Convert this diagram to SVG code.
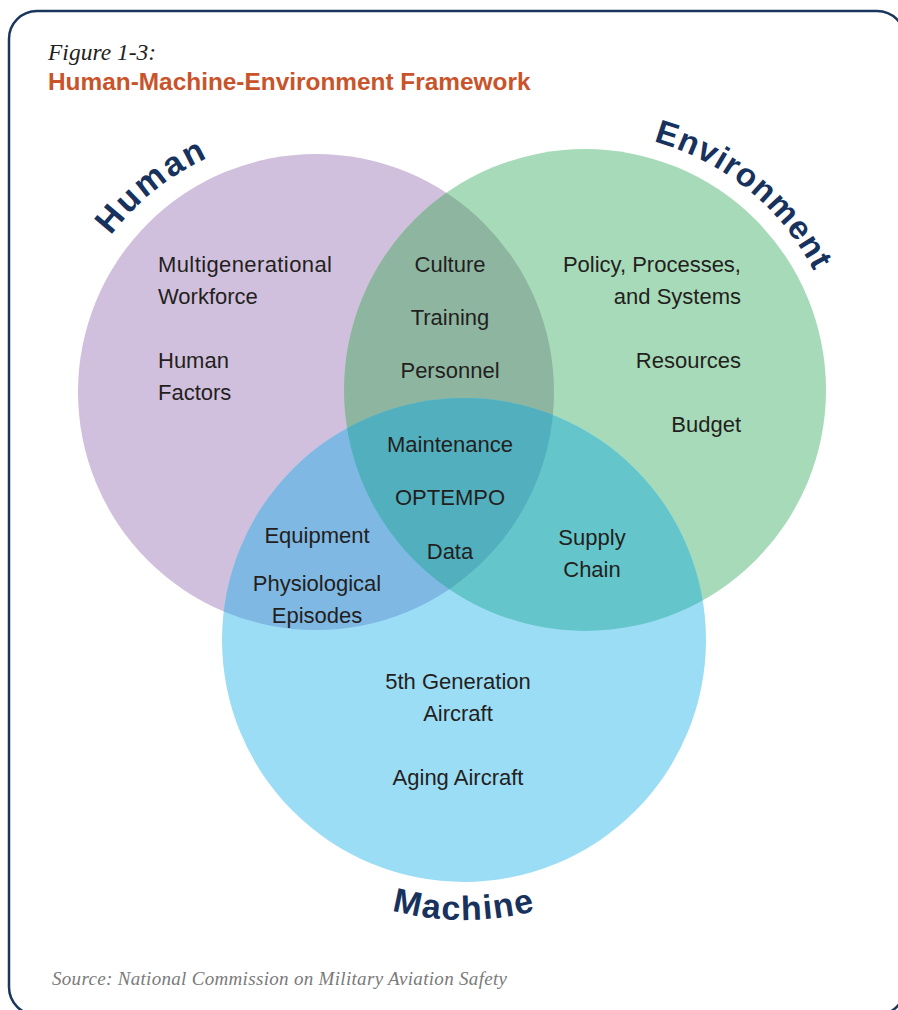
<svg xmlns="http://www.w3.org/2000/svg" xmlns:xlink="http://www.w3.org/1999/xlink" width="898" height="1010" viewBox="0 0 898 1010">
<style>
.lbl{font-family:"Liberation Sans","Arial",sans-serif;font-size:22px;fill:#231F20}
.mid{text-anchor:middle}
.end{text-anchor:end}
.big{font-family:"Liberation Sans","Arial",sans-serif;font-weight:bold;fill:#17325C}
</style>
<defs>
<clipPath id="cP"><circle cx="316" cy="392" r="238"/></clipPath>
<clipPath id="cG"><circle cx="585" cy="390" r="241"/></clipPath>
<clipPath id="cPG" clip-path="url(#cP)"><circle cx="585" cy="390" r="241"/></clipPath>
<path id="arcH" d="M 58 392 A 258 258 0 0 1 574 392"/>
<path id="arcE" d="M 327 390 A 258 258 0 0 1 843 390"/>
<path id="arcM" d="M 184 640 A 280 280 0 0 0 744 640"/>
</defs>
<rect x="0" y="0" width="898" height="1010" fill="#FFFFFF"/>
<rect x="9" y="11" width="896" height="1004" rx="28" ry="28" fill="none" stroke="#1B365D" stroke-width="2.5"/>
<text x="48" y="60" font-family="Liberation Serif, Times New Roman, serif" font-style="italic" font-size="23.5" fill="#231F20">Figure 1-3:</text>
<text x="48" y="90" font-family="Liberation Sans, Arial, sans-serif" font-weight="bold" font-size="24.4" fill="#C9532A">Human-Machine-Environment Framework</text>
<g id="human">
<circle cx="316" cy="392" r="238" fill="#D1C0DD"/>
</g>
<g id="environment">
<circle cx="585" cy="390" r="241" fill="#A7DAB8"/>
</g>
<g id="machine">
<circle cx="464" cy="640" r="242" fill="#9CDDF6"/>
</g>
<g id="overlaps">
<circle cx="585" cy="390" r="241" fill="#8EB5A0" clip-path="url(#cP)"/>
<circle cx="464" cy="640" r="242" fill="#7EB8E3" clip-path="url(#cP)"/>
<circle cx="464" cy="640" r="242" fill="#64C6CB" clip-path="url(#cG)"/>
<circle cx="464" cy="640" r="242" fill="#52AFBE" clip-path="url(#cPG)"/>
</g>
<g id="connectors"></g>
<g id="titles">
<text class="big" font-size="34" letter-spacing="2.5"><textPath xlink:href="#arcH" href="#arcH" startOffset="28.6%" text-anchor="middle">Human</textPath></text>
<text class="big" font-size="33" letter-spacing="1"><textPath xlink:href="#arcE" href="#arcE" startOffset="71.7%" text-anchor="middle">Environment</textPath></text>
<text class="big" font-size="34" letter-spacing="1.5"><textPath xlink:href="#arcM" href="#arcM" startOffset="50%" text-anchor="middle">Machine</textPath></text>
</g>
<g id="labels-human">
<text class="lbl" x="158" y="272" letter-spacing="0.4">Multigenerational</text>
<text class="lbl" x="158" y="304">Workforce</text>
<text class="lbl" x="158" y="368">Human</text>
<text class="lbl" x="158" y="400">Factors</text>
</g>
<g id="labels-he">
<text class="lbl mid" x="450" y="272">Culture</text>
<text class="lbl mid" x="450" y="325">Training</text>
<text class="lbl mid" x="450" y="378">Personnel</text>
</g>
<g id="labels-env">
<text class="lbl end" x="741" y="272">Policy, Processes,</text>
<text class="lbl end" x="741" y="304">and Systems</text>
<text class="lbl end" x="741" y="368">Resources</text>
<text class="lbl end" x="741" y="432">Budget</text>
</g>
<g id="labels-all">
<text class="lbl mid" x="450" y="452">Maintenance</text>
<text class="lbl mid" x="450" y="505">OPTEMPO</text>
<text class="lbl mid" x="450" y="559">Data</text>
</g>
<g id="labels-hm">
<text class="lbl mid" x="317" y="543">Equipment</text>
<text class="lbl mid" x="317" y="591">Physiological</text>
<text class="lbl mid" x="317" y="623">Episodes</text>
</g>
<g id="labels-em">
<text class="lbl mid" x="592" y="545">Supply</text>
<text class="lbl mid" x="592" y="577">Chain</text>
</g>
<g id="labels-machine">
<text class="lbl mid" x="458" y="689">5th Generation</text>
<text class="lbl mid" x="458" y="721">Aircraft</text>
<text class="lbl mid" x="458" y="785">Aging Aircraft</text>
</g>
<text x="52" y="985" font-family="Liberation Serif, Times New Roman, serif" font-style="italic" font-size="19" fill="#7A7A7A" textLength="455" lengthAdjust="spacing">Source: National Commission on Military Aviation Safety</text>
</svg>
